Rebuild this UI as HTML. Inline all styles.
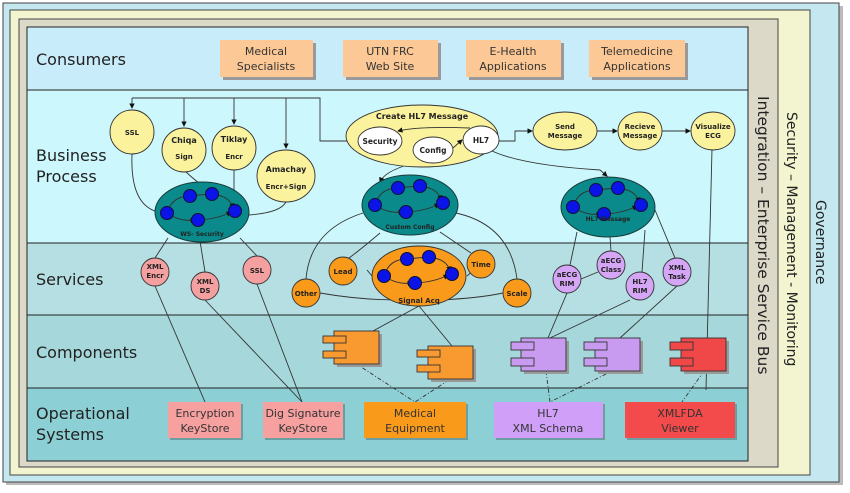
<!DOCTYPE html>
<html><head><meta charset="utf-8"><style>
html,body{margin:0;padding:0;background:#fff;}
svg{display:block;font-family:"Liberation Sans",sans-serif;}
.b{font-family:"DejaVu Sans",sans-serif;font-weight:bold;font-size:7px;text-anchor:middle;fill:#222;}
.t{font-family:"DejaVu Sans",sans-serif;font-size:11px;text-anchor:middle;fill:#333;}
.l{font-family:"DejaVu Sans",sans-serif;font-size:16px;fill:#222;}
.ln{fill:none;stroke:#333;stroke-width:0.9;}
.dd{fill:none;stroke:#333;stroke-width:0.9;stroke-dasharray:4,2,1,2;}
</style></head><body>
<svg width="850" height="493" viewBox="0 0 850 493" xmlns="http://www.w3.org/2000/svg">
<defs>
<marker id="a" markerWidth="6" markerHeight="6" refX="5" refY="3" orient="auto"><path d="M0,0 L6,3 L0,6z" fill="#111"/></marker>
<g id="net">
<path class="ln" d="M-35,3 Q-30,-14 -12,-14" marker-end="url(#a)"/>
<path class="ln" d="M-12,-14 L8,-16" marker-end="url(#a)"/>
<path class="ln" d="M10,-16 Q28,-14 31,-2" marker-end="url(#a)"/>
<path class="ln" d="M-35,3 Q-22,12 -7,10" marker-end="url(#a)"/>
<path class="ln" d="M-4,10 Q16,9 29,2" marker-end="url(#a)"/>
<circle cx="-35" cy="3" r="6.5" fill="#0a14e8" stroke="#113"/>
<circle cx="-12" cy="-14" r="6.5" fill="#0a14e8" stroke="#113"/>
<circle cx="10" cy="-16" r="6.5" fill="#0a14e8" stroke="#113"/>
<circle cx="33" cy="1" r="6.5" fill="#0a14e8" stroke="#113"/>
<circle cx="-4" cy="10" r="6.5" fill="#0a14e8" stroke="#113"/>
</g>
</defs>
<rect x="0" y="0" width="850" height="493" fill="#fff"/>
<rect x="6" y="6" width="837" height="479" fill="#bbb"/>
<rect x="3" y="3" width="836" height="479" fill="#c5e8f0" stroke="#444"/>
<rect x="10" y="10" width="800" height="465" fill="#f2f5cf" stroke="#444"/>
<rect x="19" y="19" width="759" height="448" fill="#dcd9c8" stroke="#444"/>
<rect x="27" y="27" width="721" height="63" fill="#c9ecfb" stroke="#222"/>
<rect x="27" y="90" width="721" height="153" fill="#ccf7fc" stroke="#222"/>
<rect x="27" y="243" width="721" height="72" fill="#b5dfe2" stroke="#222"/>
<rect x="27" y="315" width="721" height="73" fill="#a5d7db" stroke="#222"/>
<rect x="27" y="388" width="721" height="73" fill="#8ccfd5" stroke="#222"/>

<text class="l" transform="translate(758,96) rotate(90)" style="font-size:15.5px">Integration – Enterprise Service Bus</text>
<text class="l" transform="translate(787,112) rotate(90)" style="font-size:14px">Security – Management - Monitoring</text>
<text class="l" transform="translate(816,200) rotate(90)" style="font-size:14px">Governance</text>

<text class="l" x="36" y="65">Consumers</text>
<text class="l" x="36" y="161">Business</text><text class="l" x="36" y="182">Process</text>
<text class="l" x="36" y="285">Services</text>
<text class="l" x="36" y="358">Components</text>
<text class="l" x="36" y="419">Operational</text><text class="l" x="36" y="440">Systems</text>

<g fill="#999"><rect x="223" y="43" width="93" height="37"/><rect x="346" y="43" width="95" height="37"/><rect x="469" y="43" width="95" height="37"/><rect x="592" y="43" width="96" height="37"/></g>
<g fill="#fcc896"><rect x="220" y="40" width="93" height="37"/><rect x="343" y="40" width="95" height="37"/><rect x="466" y="40" width="95" height="37"/><rect x="589" y="40" width="96" height="37"/></g>
<text class="t" x="266" y="55">Medical</text><text class="t" x="266" y="70">Specialists</text>
<text class="t" x="390" y="55">UTN FRC</text><text class="t" x="390" y="70">Web Site</text>
<text class="t" x="513" y="55">E-Health</text><text class="t" x="513" y="70">Applications</text>
<text class="t" x="637" y="55">Telemedicine</text><text class="t" x="637" y="70">Applications</text>

<path class="ln" d="M132,98 L320,98 L320,141 L358,141"/>
<path class="ln" d="M132,98 L132,108" marker-end="url(#a)"/>
<path class="ln" d="M184,98 L184,126" marker-end="url(#a)"/>
<path class="ln" d="M234,98 L234,124" marker-end="url(#a)"/>
<path class="ln" d="M286,98 L286,148" marker-end="url(#a)"/>
<path class="ln" d="M132,154 Q130,205 158,212"/>
<path class="ln" d="M186,172 Q200,185 210,190"/>
<path class="ln" d="M234,170 L234,196"/>
<path class="ln" d="M286,202 Q280,213 248,215"/>
<path class="ln" d="M498,141 L515,141 L515,131 L532,131" marker-end="url(#a)"/>
<path class="ln" d="M597,131 L617,131" marker-end="url(#a)"/>
<path class="ln" d="M662,131 L690,131" marker-end="url(#a)"/>
<path class="ln" d="M490,150 Q520,165 600,170 L607,176" marker-end="url(#a)"/>
<path class="ln" d="M418,162 Q385,170 380,182" marker-end="url(#a)"/>
<path class="ln" d="M712,149 L706,390"/>
<path class="ln" d="M168,238 L155,258"/><path class="ln" d="M200,241 L205,272"/><path class="ln" d="M240,238 L257,256"/>
<path class="ln" d="M363,213 Q310,230 306,279"/><path class="ln" d="M380,233 Q360,250 349,258"/>
<path class="ln" d="M440,232 L471,253"/><path class="ln" d="M456,213 Q510,225 517,279"/>
<path class="ln" d="M320,293 Q360,300 400,300"/><path class="ln" d="M440,300 Q480,298 503,293"/>
<path class="ln" d="M372,276 L367,270"/><path class="ln" d="M467,276 L481,264"/>
<path class="ln" d="M577,232 L570,265"/><path class="ln" d="M610,237 L611,251"/><path class="ln" d="M645,230 L642,272"/><path class="ln" d="M655,210 L675,258"/>
<path class="ln" d="M581,279 L598,272"/>
<path class="ln" d="M155,286 L205,402"/><path class="ln" d="M205,300 L302,402"/><path class="ln" d="M257,284 L302,402"/>
<path class="ln" d="M419,306 L373,331"/><path class="ln" d="M419,306 L452,346"/>
<path class="ln" d="M567,293 L548,338"/><path class="ln" d="M550,338 L630,300"/><path class="ln" d="M677,286 L620,338"/>
<path class="dd" d="M355,363 L415,402 L452,378"/>
<path class="dd" d="M546,371 L550,402 L612,371"/>
<path class="dd" d="M704,371 L682,402"/>

<g fill="#fbf29e" stroke="#333" stroke-width="0.9">
<circle cx="132" cy="132" r="22"/><circle cx="184" cy="150" r="22"/><circle cx="234" cy="148" r="22"/>
<ellipse cx="286" cy="176" rx="29" ry="26"/>
<ellipse cx="422" cy="136" rx="76" ry="31"/>
<ellipse cx="565" cy="131" rx="32" ry="19"/><ellipse cx="640" cy="131" rx="22" ry="19"/><ellipse cx="713" cy="131" rx="22" ry="19"/>
</g>
<g fill="#fff" stroke="#333" stroke-width="0.9">
<ellipse cx="380" cy="141" rx="22" ry="14"/><ellipse cx="433" cy="150" rx="20" ry="13"/><ellipse cx="481" cy="140" rx="18" ry="14"/>
</g>
<path class="ln" d="M470,128 Q420,126 398,131" marker-end="url(#a)"/>
<path class="ln" d="M453,148 L462,140" marker-end="url(#a)"/>
<text class="b" x="132" y="135">SSL</text>
<text class="b" x="184" y="143" style="font-size:8px">Chiqa</text><text class="b" x="184" y="159">Sign</text>
<text class="b" x="234" y="142" style="font-size:8px">Tiklay</text><text class="b" x="234" y="159">Encr</text>
<text class="b" x="286" y="172" style="font-size:8px">Amachay</text><text class="b" x="286" y="189">Encr+Sign</text>
<text class="b" x="422" y="119" style="font-size:8px">Create HL7 Message</text>
<text class="b" x="380" y="144" style="font-size:7.5px">Security</text><text class="b" x="433" y="153" style="font-size:7.5px">Config</text><text class="b" x="481" y="143" style="font-size:7.5px">HL7</text>
<text class="b" x="565" y="129">Send</text><text class="b" x="565" y="138">Message</text>
<text class="b" x="640" y="129">Recieve</text><text class="b" x="640" y="138">Message</text>
<text class="b" x="713" y="129">Visualize</text><text class="b" x="713" y="138">ECG</text>

<g fill="#0a8a8a" stroke="#1a3a3a" stroke-width="1">
<ellipse cx="202" cy="212" rx="47" ry="30"/><ellipse cx="410" cy="205" rx="48" ry="30"/><ellipse cx="608" cy="207" rx="47" ry="30"/>
</g>
<use href="#net" x="202" y="210"/><use href="#net" x="410" y="202"/><use href="#net" x="608" y="204"/>
<text class="b" x="202" y="236" style="font-size:6px">WS- Security</text>
<text class="b" x="410" y="229" style="font-size:6px">Custom Config</text>
<text class="b" x="608" y="221" style="font-size:6px">HL7 Message</text>

<g fill="#f5a0a0" stroke="#333" stroke-width="0.9"><circle cx="155" cy="272" r="14"/><circle cx="205" cy="286" r="14"/><circle cx="257" cy="270" r="14"/></g>
<g fill="#f99a1a" stroke="#333" stroke-width="0.9"><circle cx="306" cy="293" r="14"/><circle cx="343" cy="271" r="14"/><circle cx="481" cy="264" r="14"/><circle cx="517" cy="293" r="14"/><ellipse cx="419" cy="276" rx="47" ry="30"/></g>
<use href="#net" x="419" y="273"/>
<g fill="#d6a6f6" stroke="#333" stroke-width="0.9"><circle cx="567" cy="279" r="14"/><circle cx="611" cy="265" r="14"/><circle cx="640" cy="286" r="14"/><circle cx="677" cy="272" r="14"/></g>
<text class="b" x="155" y="269">XML</text><text class="b" x="155" y="278">Encr</text>
<text class="b" x="205" y="284">XML</text><text class="b" x="205" y="293">DS</text>
<text class="b" x="257" y="273">SSL</text>
<text class="b" x="306" y="296">Other</text><text class="b" x="343" y="274">Lead</text><text class="b" x="481" y="267">Time</text><text class="b" x="517" y="296">Scale</text>
<text class="b" x="419" y="303">Signal Acq</text>
<text class="b" x="567" y="277">aECG</text><text class="b" x="567" y="286">RIM</text>
<text class="b" x="611" y="263">aECG</text><text class="b" x="611" y="272">Class</text>
<text class="b" x="640" y="284">HL7</text><text class="b" x="640" y="293">RIM</text>
<text class="b" x="677" y="270">XML</text><text class="b" x="677" y="279">Task</text>

<g stroke="#333" stroke-width="0.9">
<rect x="337" y="334" width="45" height="33" fill="#999" stroke="none"/><rect x="334" y="331" width="45" height="33" fill="#f99a30"/><rect x="323" y="336" width="23" height="7" fill="#f99a30"/><rect x="323" y="351" width="23" height="7" fill="#f99a30"/>
<rect x="431" y="349" width="45" height="33" fill="#999" stroke="none"/><rect x="428" y="346" width="45" height="33" fill="#f99a30"/><rect x="417" y="350" width="23" height="7" fill="#f99a30"/><rect x="417" y="365" width="23" height="7" fill="#f99a30"/>
<rect x="524" y="341" width="45" height="33" fill="#999" stroke="none"/><rect x="521" y="338" width="45" height="33" fill="#c89af0"/><rect x="511" y="342" width="23" height="8" fill="#c89af0"/><rect x="511" y="358" width="23" height="8" fill="#c89af0"/>
<rect x="598" y="341" width="45" height="33" fill="#999" stroke="none"/><rect x="595" y="338" width="45" height="33" fill="#c89af0"/><rect x="584" y="342" width="23" height="8" fill="#c89af0"/><rect x="584" y="358" width="23" height="8" fill="#c89af0"/>
<rect x="684" y="341" width="45" height="33" fill="#999" stroke="none"/><rect x="681" y="338" width="45" height="33" fill="#f04848"/><rect x="670" y="342" width="23" height="8" fill="#f04848"/><rect x="670" y="358" width="23" height="8" fill="#f04848"/>
</g>

<g fill="#6a9ea2"><rect x="170" y="404" width="73" height="36"/><rect x="265" y="404" width="80" height="36"/><rect x="366" y="404" width="102" height="36"/><rect x="496" y="404" width="109" height="36"/><rect x="627" y="404" width="110" height="36"/></g>
<rect x="168" y="402" width="73" height="36" fill="#f6a0a0"/>
<rect x="263" y="402" width="80" height="36" fill="#f6a0a0"/>
<rect x="364" y="402" width="102" height="36" fill="#f99a1a"/>
<rect x="494" y="402" width="109" height="36" fill="#d0a0f8"/>
<rect x="625" y="402" width="110" height="36" fill="#f34b4b"/>
<text class="t" x="205" y="417">Encryption</text><text class="t" x="205" y="432">KeyStore</text>
<text class="t" x="303" y="417">Dig Signature</text><text class="t" x="303" y="432">KeyStore</text>
<text class="t" x="415" y="417">Medical</text><text class="t" x="415" y="432">Equipment</text>
<text class="t" x="548" y="417">HL7</text><text class="t" x="548" y="432">XML Schema</text>
<text class="t" x="680" y="417">XMLFDA</text><text class="t" x="680" y="432">Viewer</text>
</svg>
</body></html>
